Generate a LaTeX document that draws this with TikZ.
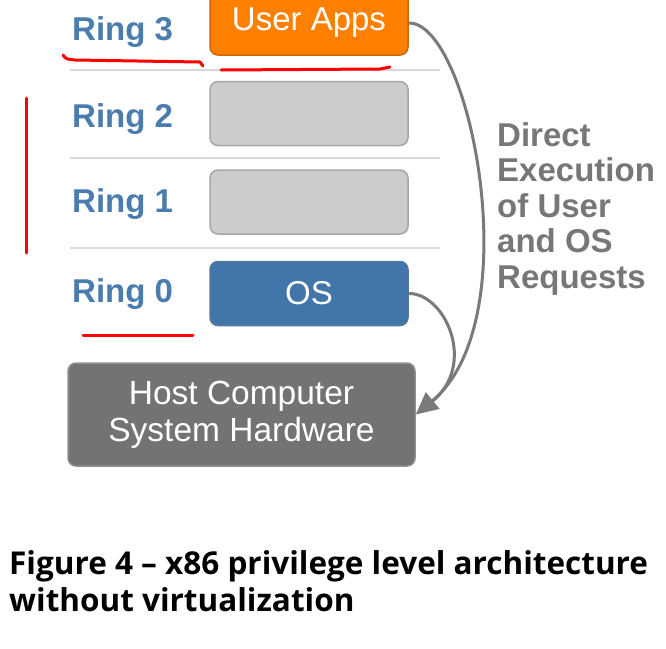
\documentclass[tikz,border=0pt]{standalone}
\usepackage{fontspec}
\setmainfont{Liberation Sans}
\newfontfamily\capfont{Open Sans}
\usetikzlibrary{arrows.meta,positioning}
\definecolor{ringblue}{RGB}{74,124,176}
\definecolor{appsorange}{RGB}{255,128,0}
\definecolor{osblue}{RGB}{66,118,171}
\definecolor{emptygray}{RGB}{204,203,206}
\definecolor{hostgray}{RGB}{115,115,115}
\definecolor{boxedge}{RGB}{166,166,166}
\definecolor{sepgray}{RGB}{217,217,217}
\definecolor{arrowgray}{RGB}{122,122,122}
\definecolor{notegray}{RGB}{119,119,119}

\begin{document}
\begin{tikzpicture}[x=1pt, y=-1pt,
    ringlbl/.style={anchor=base west, inner sep=0pt, text=ringblue, font=\fontsize{33}{36}\selectfont\bfseries},
    ringbox/.style={draw=boxedge, line width=1.5pt, rounded corners=8pt, minimum width=198pt, minimum height=64pt, text=white, font=\fontsize{33}{36}\selectfont},
    sepline/.style={draw=sepgray, line width=1.5pt},
    arrow/.style={->, >={Triangle[length=22pt,width=21pt]}, draw=arrowgray, line width=3pt},
    redmark/.style={draw=red, line width=3pt, line cap=round, line join=round}
]
\useasboundingbox (0,0) rectangle (666,648);
\fill[white] (0,0) rectangle (666,648);
\foreach \y in {70,158,248} \draw[sepline] (70,\y) -- (440,\y);
\node[ringbox, fill=appsorange, draw=appsorange!80!black] (apps) at (309,23) {User Apps};
\node[ringbox, fill=emptygray, below=25pt of apps] (ring2) {};
\node[ringbox, fill=emptygray, below=23pt of ring2] (ring1) {};
\node[ringbox, fill=osblue, draw=osblue!70!gray, below=26pt of ring1] (os) {OS};
\node[ringlbl] (r3) at (72,40) {Ring 3};
\node[ringlbl] (r2) at (72,127) {Ring 2};
\node[ringlbl] (r1) at (72,212) {Ring 1};
\node[ringlbl] (r0) at (72,302) {Ring 0};
\node[ringbox, fill=hostgray, draw=hostgray!80!white, minimum width=347pt, minimum height=103pt, align=center, font=\fontsize{33.5}{37}\selectfont] (host) at (241.5,414.5) {\raisebox{-3pt}{Host Computer}\\\raisebox{-3pt}{System Hardware}};
\node[anchor=north west, inner sep=0pt, align=left, text=notegray, font=\fontsize{33}{35.5}\selectfont\bfseries] (direct) at (497,122) {Direct\\Execution\\of User\\and OS\\Requests};
\draw[arrow] (apps.east) .. controls (470,22) and (530,320) .. (host.east);
\draw[arrow, -, shorten >=20pt] (os.east) .. controls (445,293) and (478,365) .. (host.east);
\draw[redmark] (63,55) .. controls (66,59) .. (75,60) -- (200,62) -- (203,66);
\draw[redmark] (221,70) -- (380,69) -- (390,67);
\draw[redmark] (26,98) -- (26,253);
\draw[redmark] (83,335) -- (193,335);
\node[anchor=north west, inner sep=0pt, align=left, font=\capfont\fontsize{31.5}{37}\selectfont\bfseries] (caption) at (9,550) {Figure 4 – x86 privilege level architecture\\without virtualization};
\end{tikzpicture}
\end{document}
